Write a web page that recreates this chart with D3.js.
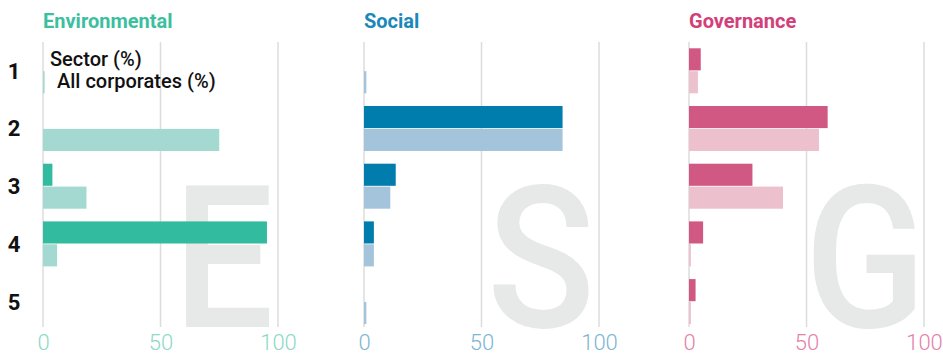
<!DOCTYPE html>
<html>
<head>
<meta charset="utf-8">
<script src="https://cdn.jsdelivr.net/npm/d3@7"></script>
<style>
  body { margin: 0; background: #fff; }
  svg text { font-family: Roboto, "Noto Sans", sans-serif; }
</style>
</head>
<body>
<script>
// data
var rows      = ["1", "2", "3", "4", "5"];
var pillars   = ["Environmental", "Social", "Governance"];
var letters   = ["E", "S", "G"];
var ticks     = [0, 50, 100];
var series    = ["Sector (%)", "All corporates (%)"];

var envSector = [0, 0, 4, 95.3, 0];
var envAll    = [0.7, 75, 18.5, 6, 0];
var socSector = [0, 84.5, 13.5, 4.2, 0];
var socAll    = [1, 84.5, 11.2, 4.2, 1];
var govSector = [5, 59, 27, 6, 2.8];
var govAll    = [3.8, 55.3, 40, 0.8, 0.8];

window.onload = function(){

	var W = 943, H = 354;

	var panels = [
		{ name: pillars[0], letter: letters[0], sector: envSector, all: envAll,
		  x0: 43,  lx: -4, title: "#3dbf9f", dark: "#33bb9f", light: "#a3d9d1", tick: "#8dd8c8" },
		{ name: pillars[1], letter: letters[1], sector: socSector, all: socAll,
		  x0: 364, lx: -4, title: "#1a88b8", dark: "#007dac", light: "#a3c4da", tick: "#7db6d2" },
		{ name: pillars[2], letter: letters[2], sector: govSector, all: govAll,
		  x0: 689, lx: 2, title: "#d2407a", dark: "#d15883", light: "#ecc0cc", tick: "#e581a8" }
	];

	var svg = d3.select("body").append("svg")
		.attr("width", W)
		.attr("height", H);

	var x = d3.scaleLinear().domain([0, 100]).range([0, 235]);

	var y = d3.scaleBand().domain(rows)
		.range([48.3, 324.1])
		.paddingInner(0.22)
		.paddingOuter(0);

	var ySub = d3.scaleBand().domain(series)
		.range([0, y.bandwidth()])
		.paddingInner(0.035);

	var gridTop = 42, gridBot = 327;

	// row labels
	svg.selectAll("text.row").data(rows).enter().append("text")
		.attr("class", "row")
		.attr("x", 14)
		.attr("y", function(d){ return y(d) + y.bandwidth() / 2; })
		.attr("dy", "0.36em")
		.attr("text-anchor", "middle")
		.style("font-size", "22px")
		.style("font-weight", 700)
		.style("fill", "#111")
		.text(function(d){ return d; });

	panels.forEach(function(p){

		var g = svg.append("g")
			.attr("transform", "translate(" + p.x0 + ",0)");

		// big background letter
		var lxPos = x(100) + p.lx;
		g.append("text")
			.attr("x", lxPos)
			.attr("y", gridBot)
			.attr("text-anchor", "end")
			.attr("transform", "translate(" + lxPos + ",0) scale(0.9,1) translate(" + (-lxPos) + ",0)")
			.style("font-size", "198px")
			.style("font-weight", 500)
			.style("fill", "#e7e8e8")
			.text(p.letter);

		// title
		g.append("text")
			.attr("x", 0)
			.attr("y", 28)
			.style("font-size", "20px")
			.style("font-weight", 700)
			.style("fill", p.title)
			.text(p.name);

		// grid
		g.selectAll("line.grid").data(ticks).enter().append("line")
			.attr("class", "grid")
			.attr("x1", function(d){ return x(d); })
			.attr("x2", function(d){ return x(d); })
			.attr("y1", gridTop)
			.attr("y2", gridBot)
			.style("stroke", "#dcdcdc")
			.style("stroke-width", 1.5);

		// bars
		var data = [];
		rows.forEach(function(r, i){
			data.push({ row: r, s: series[0], v: p.sector[i], c: p.dark });
			data.push({ row: r, s: series[1], v: p.all[i], c: p.light });
		});

		g.selectAll("rect.bar").data(data.filter(function(d){ return d.v > 0; }))
			.enter().append("rect")
			.attr("class", "bar")
			.attr("x", x(0))
			.attr("y", function(d){ return y(d.row) + ySub(d.s); })
			.attr("width", function(d){ return x(d.v) - x(0); })
			.attr("height", ySub.bandwidth())
			.style("fill", function(d){ return d.c; });

		// axis
		var axis = d3.axisBottom(x).tickValues(ticks).tickSize(0).tickPadding(0);
		var ag = g.append("g")
			.attr("transform", "translate(0," + 335 + ")")
			.call(axis);
		ag.select(".domain").remove();
		ag.selectAll("text")
			.attr("dy", "0.71em")
			.attr("y", -1)
			.style("font-family", "Roboto, sans-serif")
			.style("font-size", "22px")
			.style("font-weight", 300)
			.style("fill", p.tick);
	});

	// legend labels in first panel
	var leg = svg.append("g");
	leg.append("text")
		.attr("x", 50).attr("y", 66)
		.style("font-size", "20px").style("font-weight", 500).style("fill", "#111")
		.text(series[0]);
	leg.append("text")
		.attr("x", 57).attr("y", 88)
		.style("font-size", "20px").style("font-weight", 500).style("fill", "#111")
		.text(series[1]);
};
</script>
</body>
</html>
